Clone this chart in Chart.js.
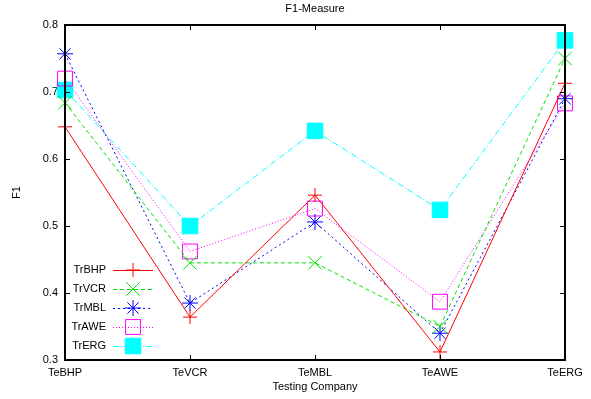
<!DOCTYPE html>
<html>
<head>
<meta charset="utf-8">
<script src="https://cdn.jsdelivr.net/npm/chart.js@4/dist/chart.umd.min.js"></script>
<style>
  html, body { margin: 0; padding: 0; background: #fff; }
  #wrap { width: 591px; height: 399px; }
</style>
</head>
<body>
<div id="wrap"><canvas id="f1Chart" width="591" height="399"></canvas></div>
<script>
const categories = ['TeBHP', 'TeVCR', 'TeMBL', 'TeAWE', 'TeERG'];
const yTicks = [0.3, 0.4, 0.5, 0.6, 0.7, 0.8];

const trBHP = [0.648, 0.364, 0.546, 0.312, 0.713];
const trVCR = [0.684, 0.445, 0.445, 0.350, 0.750];
const trMBL = [0.757, 0.385, 0.506, 0.340, 0.690];
const trAWE = [0.720, 0.462, 0.526, 0.387, 0.683];
const trERG = [0.703, 0.500, 0.642, 0.524, 0.777];

const FONT = '"Liberation Sans", Arial, sans-serif';

function series(label, data, color, dash, style, radius, fill) {
  return {
    label,
    data,
    borderColor: color,
    backgroundColor: fill ? color : 'transparent',
    borderWidth: 1,
    borderDash: dash,
    pointStyle: style,
    pointRadius: radius,
    pointBorderColor: color,
    pointBackgroundColor: fill ? color : 'transparent',
    pointBorderWidth: 1,
    tension: 0,
    fill: false,
    clip: false,
  };
}

const datasets = [
  series('TrBHP', trBHP, '#ff0000', [], 'cross', 7, false),
  series('TrVCR', trVCR, '#00e000', [4, 3], 'crossRot', 9.5, false),
  series('TrMBL', trMBL, '#0000ff', [2, 3], 'star', 8, false),
  series('TrAWE', trAWE, '#ff00ff', [1, 2], 'rect', 10.5, false),
  series('TrERG', trERG, '#00ffff', [6, 2, 1, 2], 'rect', 11, true),
];

// gnuplot-like frame, inward ticks, titles and key
const framePlugin = {
  id: 'frame',
  afterDatasetsDraw(chart) {
    const { ctx, chartArea: a, scales } = chart;
    ctx.save();
    ctx.strokeStyle = '#000';
    ctx.lineWidth = 1;
    ctx.setLineDash([]);
    ctx.beginPath();
    yTicks.forEach((v) => {
      const y = Math.round(scales.y.getPixelForValue(v)) + 0.5;
      ctx.moveTo(a.left, y); ctx.lineTo(a.left + 5, y);
      ctx.moveTo(a.right, y); ctx.lineTo(a.right - 5, y);
    });
    categories.forEach((c, i) => {
      const x = Math.round(scales.x.getPixelForValue(i)) + 0.5;
      ctx.moveTo(x, a.bottom); ctx.lineTo(x, a.bottom - 5);
      ctx.moveTo(x, a.top); ctx.lineTo(x, a.top + 5);
    });
    ctx.stroke();
    ctx.lineWidth = 2;
    ctx.strokeRect(a.left, a.top, a.right - a.left, a.bottom - a.top);

    ctx.fillStyle = '#000';
    ctx.font = '11px ' + FONT;
    ctx.textAlign = 'center';
    ctx.textBaseline = 'middle';
    const cx = (a.left + a.right) / 2;
    ctx.fillText('F1-Measure', cx, 9);
    ctx.fillText('Testing Company', cx, 387);
    ctx.save();
    ctx.translate(17, (a.top + a.bottom) / 2);
    ctx.rotate(-Math.PI / 2);
    ctx.fillText('F1', 0, 0);
    ctx.restore();

    // key
    ctx.textAlign = 'right';
    chart.data.datasets.forEach((ds, i) => {
      const y = a.top + 245 + i * 19;
      ctx.fillStyle = '#000';
      ctx.fillText(ds.label, a.left + 41, y);
      ctx.strokeStyle = ds.borderColor;
      ctx.lineWidth = 1;
      ctx.setLineDash(ds.borderDash);
      ctx.beginPath();
      ctx.moveTo(a.left + 48, y + 0.5);
      ctx.lineTo(a.left + 88, y + 0.5);
      ctx.stroke();
      ctx.setLineDash([]);
      ctx.fillStyle = ds.pointBackgroundColor;
      ctx.strokeStyle = ds.pointBorderColor;
      Chart.helpers.drawPoint(ctx, {
        pointStyle: ds.pointStyle,
        radius: ds.pointRadius,
        borderWidth: 1,
        rotation: 0,
      }, a.left + 68, y);
    });
    ctx.restore();
  },
};

new Chart(document.getElementById('f1Chart'), {
  type: 'line',
  data: { labels: categories, datasets },
  options: {
    responsive: false,
    animation: false,
    events: [],
    layout: { padding: { top: 25, right: 26, left: 0, bottom: 0 } },
    plugins: { legend: { display: false }, title: { display: false }, tooltip: { enabled: false } },
    scales: {
      x: {
        type: 'category',
        offset: false,
        grid: { display: false, drawTicks: false },
        border: { display: false },
        ticks: { color: '#000', font: { family: FONT, size: 11 }, padding: 6, maxRotation: 0, autoSkip: false },
        afterFit(scale) { scale.height = 39; },
      },
      y: {
        min: 0.3,
        max: 0.8,
        grid: { display: false, drawTicks: false },
        border: { display: false },
        afterBuildTicks(scale) { scale.ticks = yTicks.map((v) => ({ value: v })); },
        ticks: {
          color: '#000',
          font: { family: FONT, size: 11 },
          padding: 7,
          callback: (v) => Number(v).toFixed(1),
        },
        afterFit(scale) { scale.width = 65; },
      },
    },
  },
  plugins: [framePlugin],
});
</script>
</body>
</html>
